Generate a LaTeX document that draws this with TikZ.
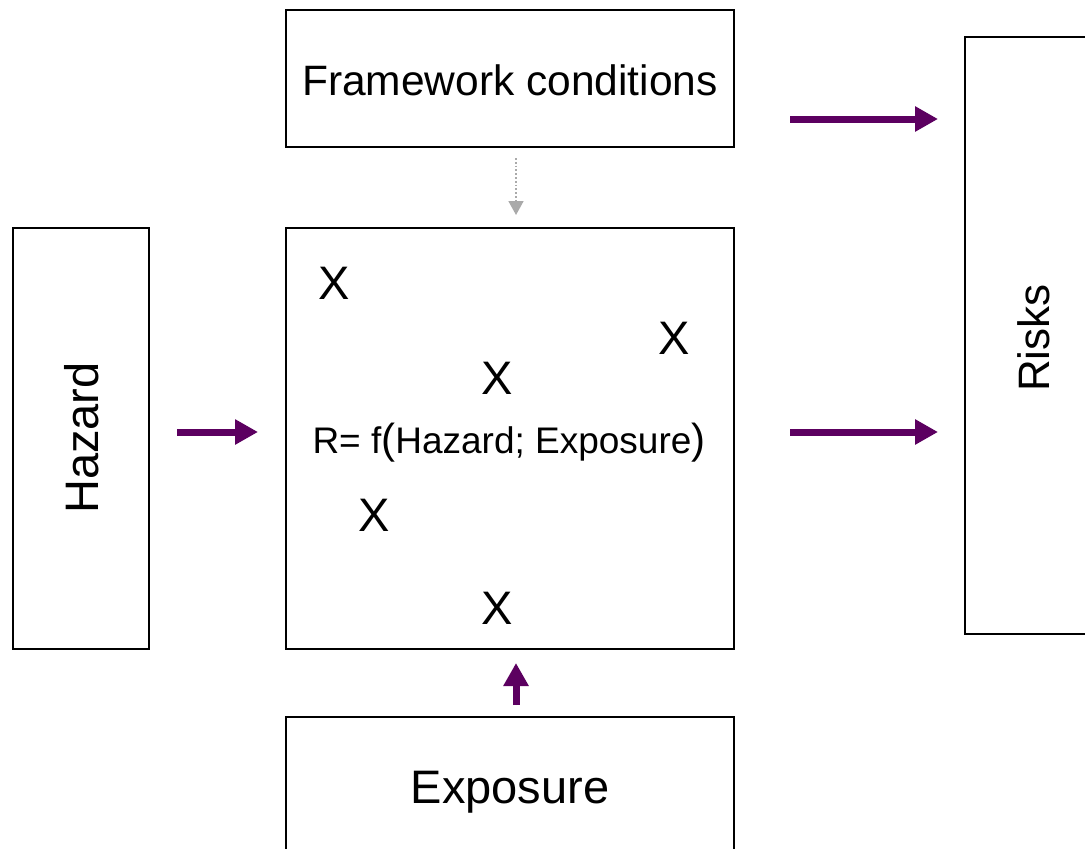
\documentclass[tikz,border=0pt]{standalone}
\usepackage{fontspec}
\setmainfont{Liberation Sans}
\usetikzlibrary{arrows.meta}
\definecolor{plum}{HTML}{5C0060}
\definecolor{greyarrow}{HTML}{AAAAAA}
\tikzset{
  box/.style={draw=black, line width=1.6pt, fill=none, inner sep=0pt},
  parrow/.style={draw=plum, line width=7pt, -{Triangle[length=23pt,width=24pt]}, fill=plum},
  darrow/.style={draw=greyarrow, line width=1.8pt, dotted, -{Triangle[length=14pt,width=15pt]}},
  lbl/.style={font=\fontsize{42.5}{50}\selectfont, inner sep=0pt},
  xmark/.style={font=\fontsize{47}{50}\selectfont, inner sep=0pt}
}
\begin{document}
\begin{tikzpicture}[x=1pt,y=-1pt]
\useasboundingbox (0,0) rectangle (1085,849);
\clip (0,0) rectangle (1085,849);
% boxes
\node[box, minimum width=448pt, minimum height=137pt] (fw) at (510,78.5) {};
\node[box, minimum width=448pt, minimum height=421pt] (ctr) at (510,438.5) {};
\node[box, minimum width=136pt, minimum height=421pt] (haz) at (81,438.5) {};
\node[box, minimum width=200pt, minimum height=597pt] (risk) at (1065,335.5) {};
\node[box, minimum width=448pt, minimum height=160pt] (expo) at (510,797) {};
% labels
\node[lbl] (fwt) at (510,80) {Framework conditions};
\node[lbl, font=\fontsize{47}{50}\selectfont, rotate=90] (hazt) at (82,438) {Hazard};
\node[lbl, font=\fontsize{44}{50}\selectfont, rotate=90] (riskt) at (1034,338) {Risks};
\node[lbl, font=\fontsize{47}{50}\selectfont] (expot) at (510,792) {Exposure};
\node[inner sep=0pt] (form) at (509,443) {\fontsize{37}{40}\selectfont R= f{\fontsize{42}{40}\selectfont(}Hazard; Exposure{\fontsize{42}{40}\selectfont)}};
% X marks
\node[xmark] (x1) at (334,283) {X};
\node[xmark] (x2) at (674,338) {X};
\node[xmark] (x3) at (497,378) {X};
\node[xmark] (x4) at (374,515) {X};
\node[xmark] (x5) at (497,608) {X};
% arrow end points
\coordinate (a1s) at (790,119);
\coordinate (a1e) at (938,119);
\coordinate (a2s) at (790,432);
\coordinate (a2e) at (938,432);
\coordinate (a3s) at (177,432);
\coordinate (a3e) at (258,432);
\coordinate (a4s) at (516,705);
\coordinate (a4e) at (516,663);
\coordinate (a5s) at (516,158);
\coordinate (a5e) at (516,215);
\draw[parrow] (a1s) -- (a1e);
\draw[parrow] (a2s) -- (a2e);
\draw[parrow] (a3s) -- (a3e);
\draw[parrow] (a4s) -- (a4e);
\draw[darrow] (a5s) -- (a5e);
\end{tikzpicture}
\end{document}
